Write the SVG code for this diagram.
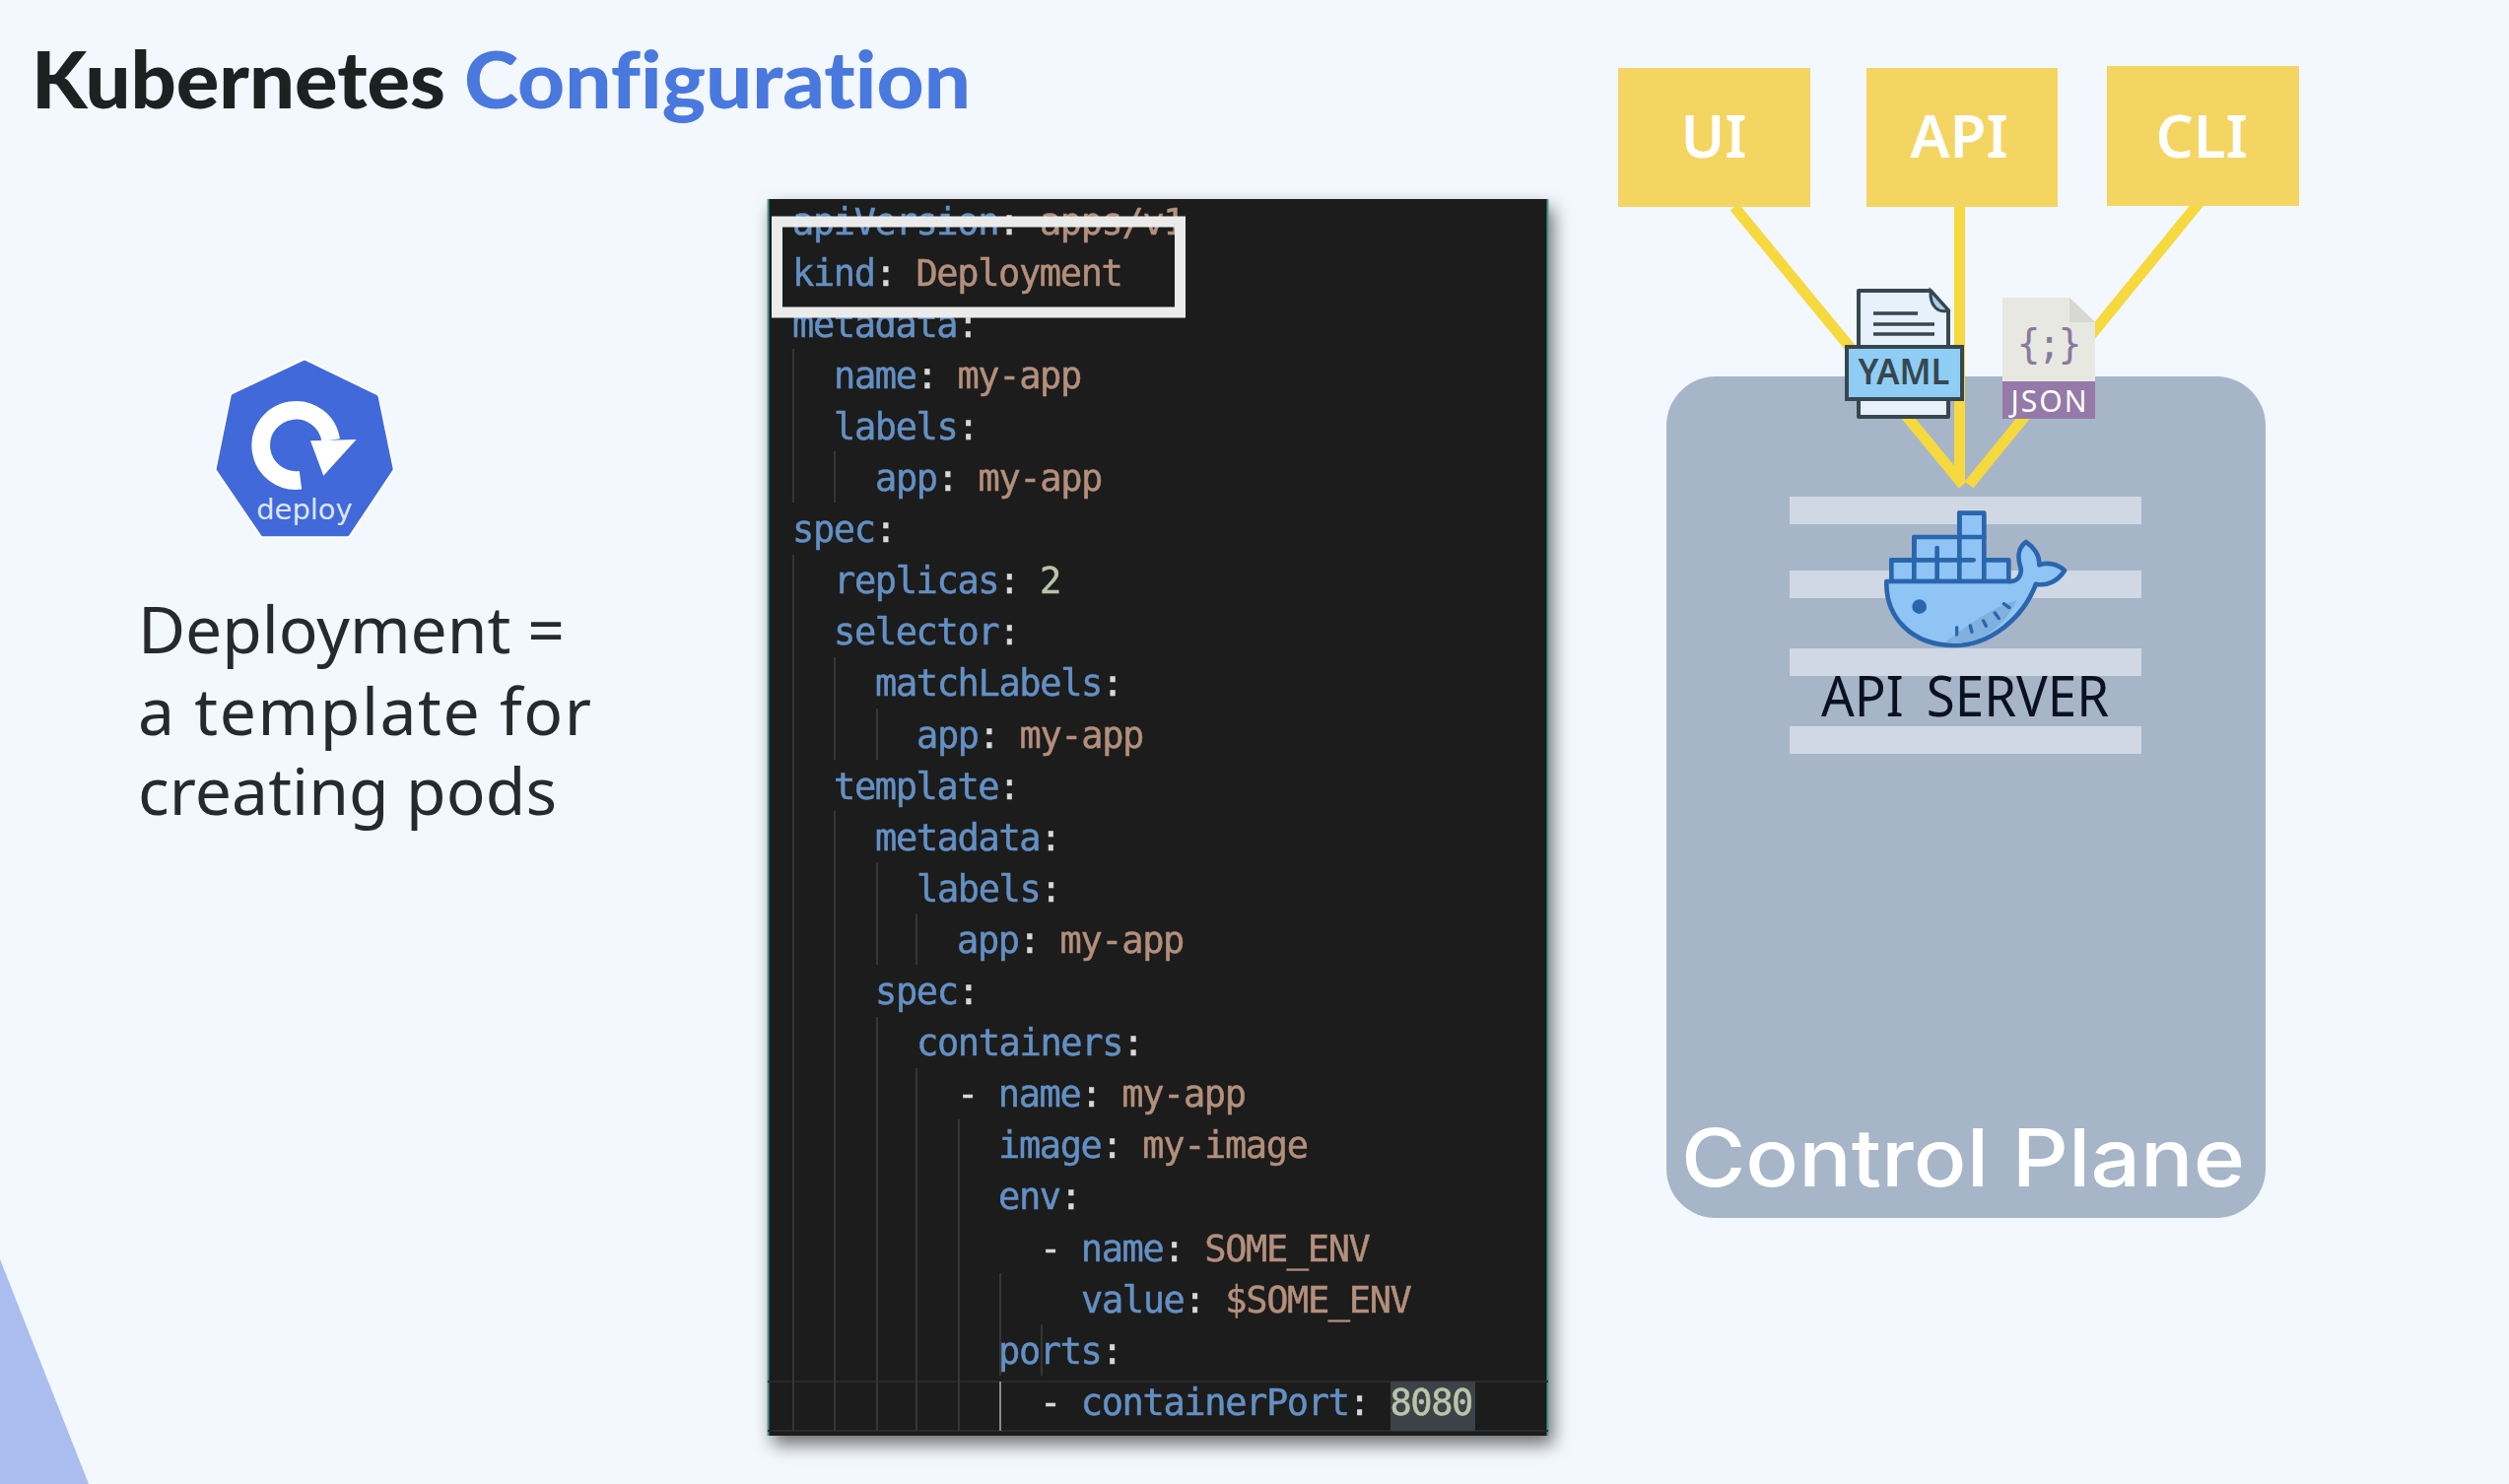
<svg xmlns="http://www.w3.org/2000/svg" width="2546" height="1506" viewBox="0 0 2546 1506">
<defs>
<style>
.code{font-family:"DejaVu Sans Mono","Liberation Mono",monospace;font-size:37px;letter-spacing:-1.37px;white-space:pre;stroke-width:.5px}
.k{fill:#6490c4;stroke:#6490c4}.p{fill:#d8d8d8;stroke:#d8d8d8}.s{fill:#b48f7c;stroke:#b48f7c}.n{fill:#b9c4a8;stroke:#b9c4a8}
.g{stroke:#3d3d3d;stroke-width:1.5;fill:none}
.conn{stroke:#f5d93e;stroke-width:11;fill:none}
.box{fill:#f5d562}
.boxt{font-family:"Noto Sans","Open Sans",sans-serif;font-weight:600;font-size:60px;fill:#fff;text-anchor:middle}
.st{fill:#cfd8e4}
.dock{stroke:#2a66ad;stroke-width:14;fill:#8fc4f5;stroke-linejoin:round;stroke-linecap:round}
.gill{stroke:#2a66ad;stroke-width:14;stroke-linecap:round;fill:none}
</style>
<filter id="soft" x="-2%" y="-2%" width="104%" height="104%"><feGaussianBlur stdDeviation="0.7"/></filter>
<filter id="shadow" x="-5%" y="-5%" width="110%" height="110%"><feDropShadow dx="5" dy="9" stdDeviation="9" flood-color="#000" flood-opacity="0.55"/></filter>
</defs>
<rect width="2546" height="1506" fill="#f3f7fe"/>
<polygon id="corner" points="0,1278 90,1506 0,1506" fill="#aabdee"/>
<g id="title" filter="url(#soft)" style="font-family:Lato,'Open Sans',sans-serif;font-weight:900;font-size:80px;font-variant-ligatures:none">
<text x="32" y="110" fill="#1f2023" textLength="420" lengthAdjust="spacingAndGlyphs">Kubernetes</text>
<text x="471" y="110" fill="#4a78de" textLength="514" lengthAdjust="spacingAndGlyphs">Configuration</text>
</g>
<g id="deploy-icon" transform="translate(190,340) scale(0.3333)">
<polygon points="357,84 574,189 619,408 487,606 231,606 96,408 141,186" fill="#4169d9" stroke="#fff" stroke-width="26" stroke-linejoin="round"/>
<polygon points="357,84 574,189 619,408 487,606 231,606 96,408 141,186" fill="#4169d9" stroke="#4169d9" stroke-width="14" stroke-linejoin="round"/>
<path d="M345,442 A107,107 0 1 1 437,320" fill="none" stroke="#fff" stroke-width="56"/>
<polygon points="375,322 515,318 415,428" fill="#fff"/>
<text x="357" y="560" text-anchor="middle" fill="#dce6fa" font-family="'DejaVu Sans',sans-serif" font-size="87">deploy</text>
</g>
<g id="deployment-note" filter="url(#soft)" style="font-family:'Noto Sans','Open Sans',sans-serif;font-size:66px;fill:#25292f">
<text x="140" y="663" textLength="433">Deployment =</text>
<text x="140" y="746" textLength="460">a template for</text>
<text x="140" y="827" textLength="425">creating pods</text>
</g>
<g id="yaml-panel">
<rect x="779" y="202" width="792" height="1255" fill="#1e1e1e" filter="url(#shadow)"/>
<path d="M779.500,202V1457M1570.500,202V1457" stroke="#4a9a8f" stroke-width="2" fill="none"/>
<path d="M779,1402H1571M779,1452H1571" stroke="#2a2a2a" stroke-width="2" fill="none"/>
<rect x="1411" y="1402" width="86" height="50" fill="#3c4247"/>
<g filter="url(#soft)">
<path class="g" d="M805,354V510M847,458V510M805,563V1452M847,667V771M847,823V1452M890,719V771M890,875V979M890,1032V1452M930,927V979M930,1084V1452M973,1136V1452M1015,1292V1396M1057,1344V1396"/>
<path d="M1015,1402V1452" stroke="#8a8a8a" stroke-width="2" fill="none"/>
<g class="code" transform="translate(0,1.500)">
<text x="804" y="236"><tspan class="k">apiVersion</tspan><tspan class="p">: </tspan><tspan class="s">apps/v1</tspan></text>
<text x="804" y="288.100"><tspan class="k">kind</tspan><tspan class="p">: </tspan><tspan class="s">Deployment</tspan></text>
<text x="804" y="340.200"><tspan class="k">metadata</tspan><tspan class="p">:</tspan></text>
<text x="846" y="392.300"><tspan class="k">name</tspan><tspan class="p">: </tspan><tspan class="s">my-app</tspan></text>
<text x="846" y="444.400"><tspan class="k">labels</tspan><tspan class="p">:</tspan></text>
<text x="888" y="496.500"><tspan class="k">app</tspan><tspan class="p">: </tspan><tspan class="s">my-app</tspan></text>
<text x="804" y="548.600"><tspan class="k">spec</tspan><tspan class="p">:</tspan></text>
<text x="846" y="600.700"><tspan class="k">replicas</tspan><tspan class="p">: </tspan><tspan class="n">2</tspan></text>
<text x="846" y="652.800"><tspan class="k">selector</tspan><tspan class="p">:</tspan></text>
<text x="888" y="704.900"><tspan class="k">matchLabels</tspan><tspan class="p">:</tspan></text>
<text x="930" y="757"><tspan class="k">app</tspan><tspan class="p">: </tspan><tspan class="s">my-app</tspan></text>
<text x="846" y="809.100"><tspan class="k">template</tspan><tspan class="p">:</tspan></text>
<text x="888" y="861.200"><tspan class="k">metadata</tspan><tspan class="p">:</tspan></text>
<text x="930" y="913.300"><tspan class="k">labels</tspan><tspan class="p">:</tspan></text>
<text x="971" y="965.400"><tspan class="k">app</tspan><tspan class="p">: </tspan><tspan class="s">my-app</tspan></text>
<text x="888" y="1017.500"><tspan class="k">spec</tspan><tspan class="p">:</tspan></text>
<text x="930" y="1069.600"><tspan class="k">containers</tspan><tspan class="p">:</tspan></text>
<text x="971" y="1121.700"><tspan class="p">- </tspan><tspan class="k">name</tspan><tspan class="p">: </tspan><tspan class="s">my-app</tspan></text>
<text x="1013" y="1173.800"><tspan class="k">image</tspan><tspan class="p">: </tspan><tspan class="s">my-image</tspan></text>
<text x="1013" y="1225.900"><tspan class="k">env</tspan><tspan class="p">:</tspan></text>
<text x="1055" y="1278"><tspan class="p">- </tspan><tspan class="k">name</tspan><tspan class="p">: </tspan><tspan class="s">SOME_ENV</tspan></text>
<text x="1097" y="1330.100"><tspan class="k">value</tspan><tspan class="p">: </tspan><tspan class="s">$SOME_ENV</tspan></text>
<text x="1013" y="1382.200"><tspan class="k">ports</tspan><tspan class="p">:</tspan></text>
<text x="1055" y="1434.300"><tspan class="p">- </tspan><tspan class="k">containerPort</tspan><tspan class="p">: </tspan><tspan class="n">8080</tspan></text>
</g>
</g>
<rect x="788.500" y="225" width="409" height="92" fill="none" stroke="#ebebeb" stroke-width="11"/>
</g>
<g id="control-plane">
<rect x="1691" y="382" width="608" height="854" rx="50" fill="#a7b5c9"/>
<text x="1706" y="1204" textLength="572" lengthAdjust="spacingAndGlyphs" font-family="Inter,'Open Sans',sans-serif" font-weight="500" font-size="81" fill="#fff">Control Plane</text>
</g>
<g id="api-server">
<rect class="st" x="1816" y="504" width="357" height="28"/>
<rect class="st" x="1816" y="579" width="357" height="28"/>
<rect class="st" x="1816" y="658" width="357" height="28"/>
<rect class="st" x="1816" y="737" width="357" height="28"/>
<g transform="translate(1780,480) scale(0.3333)">
<path class="dock" d="M418,330V265H487V195H625V122H700V265H775V330Z"/>
<path class="gill" d="M487,195V330M557,228V330M625,122V330M700,265V330M418,265H668M625,195H700"/>
<path class="dock" d="M403,330L775,330C800,332 815,315 812,290C800,255 805,225 828,210C850,225 870,250 868,280C895,270 925,278 945,297C925,330 890,345 858,338C820,440 720,525 610,525C480,525 400,440 403,330Z"/>
<path d="M585,512C640,470 740,400 800,388C760,470 690,518 610,519C600,519 592,517 585,512Z" fill="#7fb0df"/>
<circle cx="503" cy="407" r="22" fill="#2a66ad"/>
<path class="gill" style="stroke-width:10" d="M617,470V492M658,465L663,484M698,450L706,466M733,426L745,443M760,398L777,410"/>
</g>
<text x="1848" y="727" textLength="292" lengthAdjust="spacingAndGlyphs" word-spacing="10" font-family="'Noto Sans','Open Sans',sans-serif" font-size="56" fill="#0b1120">API SERVER</text>
</g>
<g id="connectors">
<path class="conn" d="M1760,210L1992,492"/>
<path class="conn" d="M1988.500,210V490"/>
<path class="conn" d="M2232,205L1998,492"/>
</g>
<g id="ui"><rect class="box" x="1642" y="69" width="195" height="141"/><text class="boxt" x="1739" y="160">UI</text></g>
<g id="api"><rect class="box" x="1894" y="69" width="194" height="141"/><text class="boxt" x="1988" y="160">API</text></g>
<g id="cli"><rect class="box" x="2138" y="67" width="195" height="142"/><text class="boxt" x="2234" y="160">CLI</text></g>
<g id="yaml-file">
<path d="M1886,295H1959L1977,315V423H1886Z" fill="#e6f1fb" stroke="#37474f" stroke-width="4" stroke-linejoin="round"/>
<path d="M1959,295L1977,315C1968,318 1958,312 1959,295Z" fill="#a9cfe0" stroke="#37474f" stroke-width="3"/>
<path d="M1901,318H1946M1901,329H1963M1901,339H1963" stroke="#37474f" stroke-width="3.500" fill="none"/>
<rect x="1874" y="352" width="117" height="53" fill="#90cdf4" stroke="#37474f" stroke-width="4"/>
<text x="1932" y="390" text-anchor="middle" textLength="93" lengthAdjust="spacingAndGlyphs" font-family="'Noto Sans','Open Sans',sans-serif" font-weight="600" font-size="36" fill="#37474f">YAML</text>
</g>
<g id="json-file">
<path d="M2032,302H2100L2126,327V425H2032Z" fill="#e8e8e3"/>
<path d="M2100,302L2126,327H2100Z" fill="#d8d8d2"/>
<rect x="2032" y="387" width="94" height="38" fill="#9579a8"/>
<text x="2078" y="363" text-anchor="middle" font-family="'DejaVu Sans Mono',monospace" font-size="40" letter-spacing="-3" fill="#8a7a9e">{;}</text>
<text x="2079" y="418" text-anchor="middle" textLength="77" font-family="'Noto Sans','Open Sans',sans-serif" font-size="30" fill="#fff">JSON</text>
</g>
</svg>
